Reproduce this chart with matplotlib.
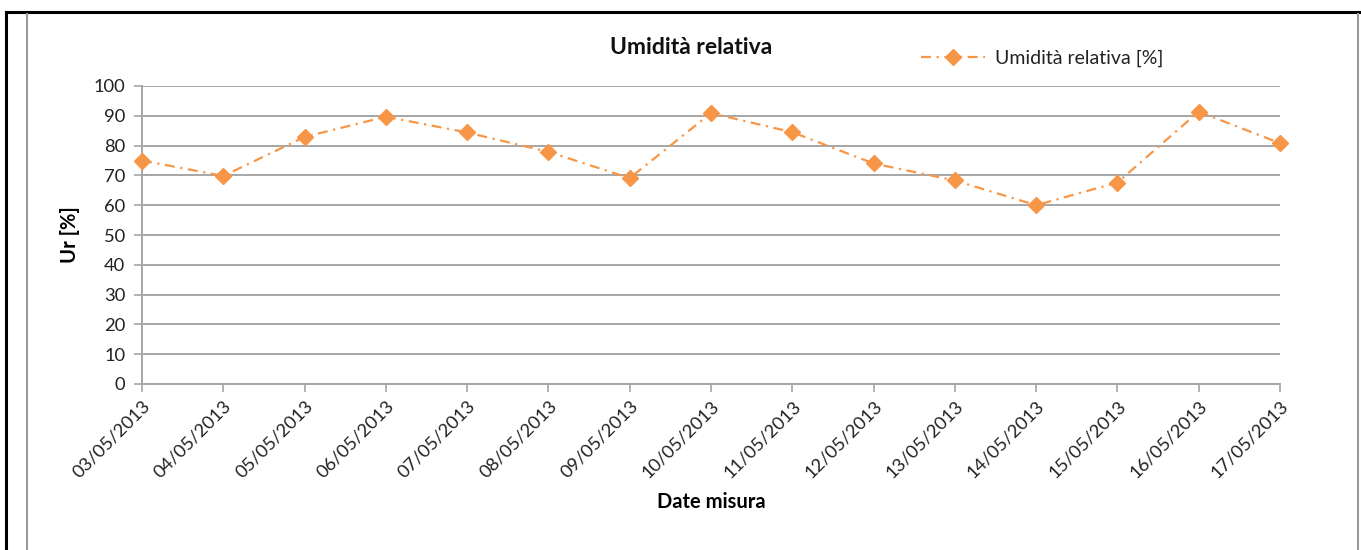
import matplotlib
matplotlib.use("Agg")
import matplotlib.pyplot as plt
from matplotlib.lines import Line2D

plt.rcParams['font.family'] = ['Lato', 'DejaVu Sans']

dates = ["03/05/2013", "04/05/2013", "05/05/2013", "06/05/2013", "07/05/2013",
         "08/05/2013", "09/05/2013", "10/05/2013", "11/05/2013", "12/05/2013",
         "13/05/2013", "14/05/2013", "15/05/2013", "16/05/2013", "17/05/2013"]
umidita = [75, 69.8, 82.9, 89.7, 84.4, 77.9, 69.1, 90.9, 84.5, 74.0, 68.3, 60.0, 67.6, 91.4, 80.8]
yticks = list(range(0, 101, 10))

W, H = 1361, 550
fig = plt.figure(figsize=(W / 100, H / 100), dpi=100)
ax = fig.add_axes([142 / W, 1 - 384 / H, (1280 - 142) / W, (384 - 86) / H])

orange = '#F79646'
grid_c = '#A6A6A6'
x = list(range(len(dates)))
line, = ax.plot(x, umidita, color=orange, lw=1.6, marker='D', markersize=8.5,
                markeredgecolor=orange, markerfacecolor=orange, label='Umidità relativa [%]',
                zorder=3, clip_on=False)
line.set_dashes((4.5, 2.5, 1, 2.5))

ax.set_xlim(0, len(dates) - 1)
ax.set_ylim(0, 100)
ax.set_yticks(yticks)
ax.set_xticks(x)
ax.set_xticklabels(dates, rotation=45, ha='right', rotation_mode='anchor')
ax.tick_params(axis='both', labelsize=13.2, colors='#404040', labelcolor='#222222')
ax.tick_params(axis='y', length=6, width=1.2, color=grid_c, pad=6)
ax.tick_params(axis='x', length=6, width=1.2, color=grid_c, pad=4)
ax.yaxis.grid(True, color=grid_c, lw=1.4)
ax.set_axisbelow(True)
for s in ['top', 'right']:
    ax.spines[s].set_visible(False)
for s in ['left', 'bottom']:
    ax.spines[s].set_color(grid_c)
    ax.spines[s].set_linewidth(1.4)

ax.set_ylabel('Ur [%]', fontsize=14.5, fontweight='bold')
ax.yaxis.label.set_va('center')
ax.yaxis.set_label_coords(-(142 - 70) / (1280 - 142), 0.5)
ax.set_xlabel('Date misura', fontsize=14.5, fontweight='bold')
ax.xaxis.label.set_va('center')
ax.xaxis.set_label_coords(0.5, -(502 - 384) / (384 - 86))

fig.text(691 / W, 1 - 48 / H, 'Umidità relativa', fontsize=16.5, fontweight='bold',
         ha='center', va='center', color='#111111')

fig.legend(handles=[line], loc='center left', bbox_to_anchor=(921 / W, 1 - 58 / H),
           frameon=False, fontsize=14, handlelength=3.3, handletextpad=0.5,
           borderpad=0, borderaxespad=0, labelcolor='#222222')

# chart frame
fig.add_artist(Line2D([6 / W, 6 / W], [0, 1 - 12 / H], color='black', lw=2.2,
                      transform=fig.transFigure))
fig.add_artist(Line2D([6 / W, 1], [1 - 12 / H, 1 - 12 / H], color='black', lw=2.2,
                      transform=fig.transFigure))
fig.add_artist(Line2D([27 / W, 27 / W], [0, 1 - 14 / H], color='#9a9a9a', lw=1.5,
                      transform=fig.transFigure))
fig.add_artist(Line2D([1358 / W, 1358 / W], [0, 1 - 14 / H], color='#9a9a9a', lw=1.5,
                      transform=fig.transFigure))

fig.savefig('out.png', dpi=100)
